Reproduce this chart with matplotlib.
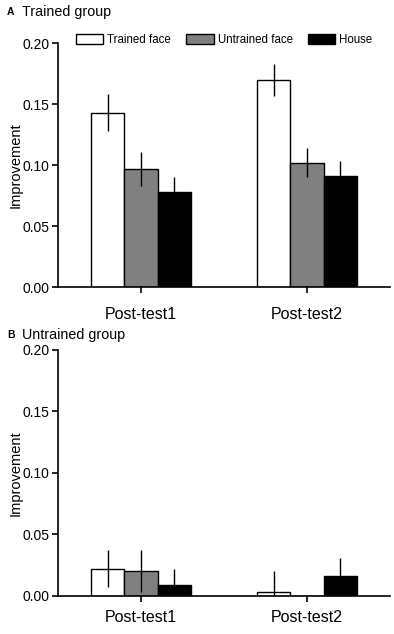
import numpy as np
import matplotlib
matplotlib.use("Agg")
from matplotlib import pyplot as plt

plt.rcParams["font.family"] = ["Liberation Sans", "DejaVu Sans"]

SESSIONS = ["Post-test1", "Post-test2"]
CONDITIONS = ["Trained face", "Untrained face", "House"]
COLORS = ["white", "#808080", "black"]

# improvement per condition (rows) and session (columns)
TRAINED_MEAN = [[0.143, 0.170], [0.097, 0.102], [0.078, 0.091]]
TRAINED_ERR = [[0.015, 0.013], [0.014, 0.012], [0.012, 0.012]]
UNTRAINED_MEAN = [[0.022, 0.003], [0.020, 0.000], [0.009, 0.016]]
UNTRAINED_ERR = [[0.015, 0.017], [0.017, 0.0], [0.013, 0.015]]

BAR_W = 0.2


def draw_panel(ax, means, errs, xpad, legend=False):
    x = np.arange(len(SESSIONS))
    for i, cond in enumerate(CONDITIONS):
        pos = x + (i - 1) * BAR_W
        ax.bar(pos, means[i], BAR_W, color=COLORS[i], edgecolor="black",
               linewidth=1.0, label=cond, zorder=2)
        ax.errorbar(pos, means[i], yerr=errs[i], fmt="none", ecolor="black",
                    elinewidth=1.0, capsize=0, zorder=3)
    ax.set_xlim(-0.5, 1.5)
    ax.set_ylim(0, 0.2)
    ax.set_yticks([0, 0.05, 0.10, 0.15, 0.20])
    ax.set_yticklabels(["0.00", "0.05", "0.10", "0.15", "0.20"])
    ax.set_xticks(x)
    ax.set_xticklabels(SESSIONS)
    ax.spines["top"].set_visible(False)
    ax.spines["right"].set_visible(False)
    ax.spines["left"].set_linewidth(1.2)
    ax.spines["bottom"].set_linewidth(1.2)
    ax.tick_params(axis="y", direction="out", length=4, width=1.2, labelsize=10, pad=2)
    ax.tick_params(axis="x", direction="out", length=4, width=1.2, labelsize=11.5, pad=xpad)
    ax.set_ylabel("Improvement", fontsize=10.5, labelpad=0)
    if legend:
        ax.legend(loc="center", bbox_to_anchor=(0.5, 1.012), ncol=3,
                  frameon=False, fontsize=8.3, handlelength=2.4, handleheight=0.95,
                  columnspacing=1.3, handletextpad=0.35, borderaxespad=0,
                  borderpad=0)


def main():
    fig = plt.figure(figsize=(3.94, 6.34), dpi=100)
    ax_a = fig.add_axes([0.147, 0.547, 0.843, 0.385])
    ax_b = fig.add_axes([0.147, 0.060, 0.843, 0.388])
    draw_panel(ax_a, TRAINED_MEAN, TRAINED_ERR, 10, legend=True)
    draw_panel(ax_b, UNTRAINED_MEAN, UNTRAINED_ERR, 6)

    fig.text(7 / 394, 1 - 12 / 634, "A", fontsize=7.5, fontweight="bold", va="center")
    fig.text(22 / 394, 1 - 12 / 634, "Trained group", fontsize=10.3, va="center")
    fig.text(7 / 394, 1 - 335 / 634, "B", fontsize=7.5, fontweight="bold", va="center")
    fig.text(22 / 394, 1 - 335 / 634, "Untrained group", fontsize=10.3, va="center")

    fig.savefig("out.png", dpi=100)


if __name__ == "__main__":
    main()
